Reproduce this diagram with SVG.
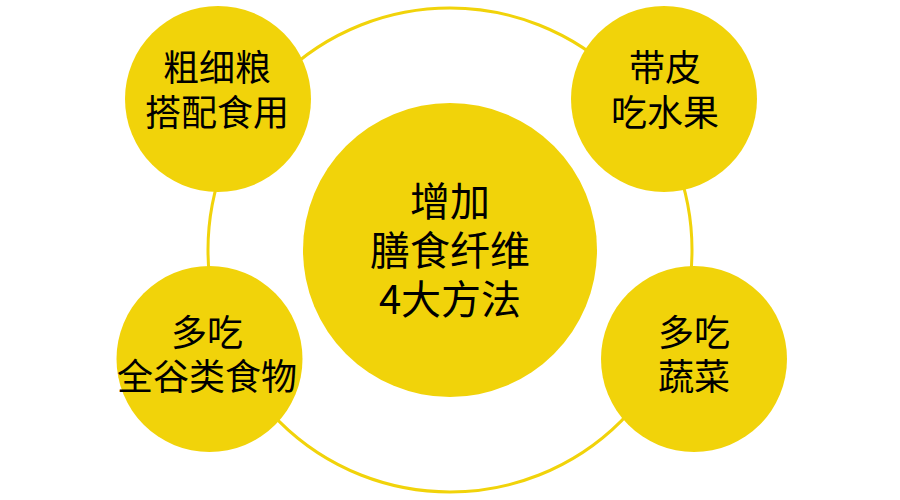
<svg xmlns="http://www.w3.org/2000/svg" width="900" height="500" viewBox="0 0 900 500">
<style>
.ring{fill:none;stroke:#F1D30A;stroke-width:3}
.node{fill:#F1D30A}
.t{font-family:"Noto Sans CJK SC","Noto Sans",sans-serif;fill:#000;text-anchor:middle;font-size:36px}
.c{font-size:40px}
</style>
<rect width="900" height="500" fill="#fff"/>
<g id="connectors">
<circle class="ring" cx="450" cy="250" r="242"/>
</g>
<g id="center">
<circle class="node" cx="450" cy="250" r="147"/>
<text class="t c" x="450" y="216">增加</text>
<text class="t c" x="450" y="265">膳食纤维</text>
<text class="t c" x="450" y="314">4大方法</text>
</g>
<g id="n1">
<circle class="node" cx="218" cy="99" r="93"/>
<text class="t" x="217" y="81">粗细粮</text>
<text class="t" x="217" y="126">搭配食用</text>
</g>
<g id="n2">
<circle class="node" cx="664" cy="99" r="93"/>
<text class="t" x="665" y="81">带皮</text>
<text class="t" x="665" y="126">吃水果</text>
</g>
<g id="n3">
<circle class="node" cx="209.5" cy="359" r="93"/>
<text class="t" x="207" y="346">多吃</text>
<text class="t" x="207" y="390">全谷类食物</text>
</g>
<g id="n4">
<circle class="node" cx="694" cy="359" r="93"/>
<text class="t" x="694" y="346">多吃</text>
<text class="t" x="694" y="390">蔬菜</text>
</g>
</svg>
